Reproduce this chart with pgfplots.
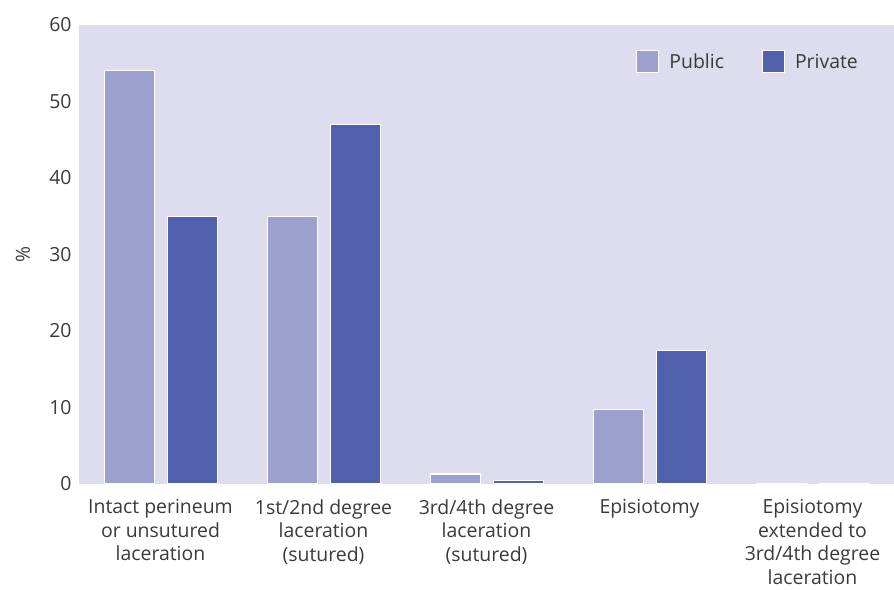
\documentclass[border=0pt]{standalone}
\usepackage{pgfplots}
\pgfplotsset{compat=1.18}
\usepackage{fontspec}
\setmainfont{Open Sans}
\definecolor{bgc}{HTML}{DEDDEF}
\definecolor{pubc}{HTML}{9BA0CF}
\definecolor{privc}{HTML}{5060AD}
\definecolor{txt}{HTML}{3A3A3A}
\begin{document}
\begin{tikzpicture}
\begin{axis}[
  name=ax,
  scale only axis,
  width=815bp, height=459bp,
  xmin=-0.5, xmax=4.5, ymin=0, ymax=60,
  axis line style={draw=none},
  axis background/.style={fill=bgc},
  major tick length=0pt,
  ytick={0,10,...,60},
  xtick={0,1,2,3,4},
  xticklabels={{Intact perineum\\or unsutured\\laceration},{1st/2nd degree\\laceration\\(sutured)},{3rd/4th degree\\laceration\\(sutured)},{Episiotomy},{Episiotomy\\extended to\\3rd/4th degree\\laceration}},
  xticklabel style={align=center, anchor=north, yshift=-12bp},
  yticklabel style={xshift=-4bp},
  /pgf/number format/assume math mode=true,
  font=\fontsize{19.5}{23.5}\selectfont,
  every tick label/.append style={text=txt},
  ylabel={\%},
  ylabel style={at={(rel axis cs:0,0.5)}, yshift=56bp, anchor=center, text=txt},
  ybar, bar width=0.305,
  clip=false,
  legend columns=2,
  legend style={draw=none, fill=none, at={(rel axis cs:0.962,0.95)}, anchor=north east, text=txt,
    /tikz/every odd column/.append style={column sep=8bp},
    /tikz/every even column/.append style={column sep=36bp}},
  legend image code/.code={\draw[#1,draw=white,line width=1bp] (0bp,-11bp) rectangle (22bp,11bp);},
]
\addplot[fill=pubc, draw=white, line width=1.2bp, bar shift=-0.19] coordinates {(0,54.0) (1,35.0) (2,1.3) (3,9.7) (4,0.1)};
\addlegendentry{Public}
\addplot[fill=privc, draw=white, line width=1.2bp, bar shift=0.195] coordinates {(0,35.0) (1,47.0) (2,0.5) (3,17.5) (4,0.1)};
\addlegendentry{Private}
\end{axis}
\pgfresetboundingbox
\path ([xshift=-79bp,yshift=-106bp]ax.south west) rectangle ([yshift=25bp]ax.north east);
\end{tikzpicture}
\end{document}
